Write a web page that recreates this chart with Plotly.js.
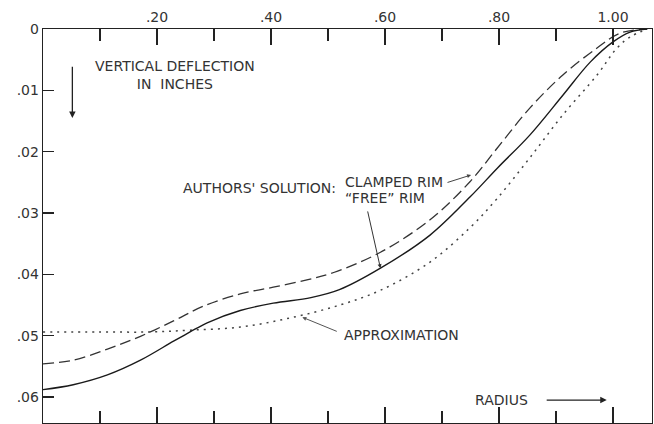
<!DOCTYPE html>
<html>
<head>
<meta charset="utf-8">
<script src="https://cdn.plot.ly/plotly-3.0.1.min.js"></script>
<style>html,body{margin:0;padding:0;background:#fff;}#chart{width:654px;height:424px;}</style>
</head>
<body>
<div id="chart"></div>
<script>
// Radius (fraction) and vertical deflection (inches)
const freeRimX = [0, 0.053, 0.113, 0.171, 0.229, 0.258, 0.288, 0.346, 0.404, 0.470, 0.520, 0.592, 0.679, 0.749, 0.797, 0.854, 0.912, 0.960, 1.000, 1.030, 1.060];
const freeRimY = [0.0588, 0.0580, 0.0564, 0.0540, 0.0509, 0.0494, 0.0479, 0.0459, 0.0447, 0.0438, 0.0425, 0.0390, 0.0336, 0.0274, 0.0227, 0.0173, 0.0108, 0.0054, 0.0021, 0.0005, 0.0];

const clampedRimX = [0, 0.053, 0.113, 0.171, 0.229, 0.281, 0.346, 0.404, 0.463, 0.510, 0.592, 0.679, 0.749, 0.797, 0.854, 0.912, 0.972, 1.012, 1.060];
const clampedRimY = [0.0546, 0.0540, 0.0522, 0.0501, 0.0476, 0.0452, 0.0432, 0.0421, 0.0409, 0.0397, 0.0364, 0.0311, 0.0249, 0.0194, 0.0129, 0.0075, 0.0031, 0.0007, 0.0];

const approxX = [0, 0.10, 0.188, 0.258, 0.346, 0.434, 0.521, 0.592, 0.679, 0.749, 0.797, 0.854, 0.912, 0.972, 1.007, 1.030, 1.060];
const approxY = [0.0494, 0.0494, 0.0494, 0.0491, 0.0486, 0.0471, 0.0450, 0.0426, 0.0380, 0.0324, 0.0276, 0.0210, 0.0140, 0.0075, 0.0031, 0.0013, 0.0];

const xTickVals = [0.2, 0.4, 0.6, 0.8, 1.0];
const xTickText = ['.20', '.40', '.60', '.80', '1.00'];
const xMinorVals = [0.1, 0.3, 0.5, 0.7, 0.9];
const yTickVals = [0, 0.01, 0.02, 0.03, 0.04, 0.05, 0.06];
const yTickText = ['0', '.01', '.02', '.03', '.04', '.05', '.06'];

const ink = '#222';
const FONT = 'DejaVu Sans, Verdana, sans-serif';

const traces = [
  {x: approxX, y: approxY, mode: 'lines', name: 'Approximation',
   line: {color: '#444', width: 1.5, dash: '2px,5px', shape: 'spline', smoothing: 1}},
  {x: clampedRimX, y: clampedRimY, mode: 'lines', name: 'Clamped rim',
   line: {color: '#333', width: 1.3, dash: '11px,5px', shape: 'spline', smoothing: 1}},
  {x: freeRimX, y: freeRimY, mode: 'lines', name: 'Free rim',
   line: {color: '#1a1a1a', width: 1.4, shape: 'spline', smoothing: 1}}
];

const txt = {family: FONT, size: 14, color: '#333'};
const annotations = [
  {x: 0.232, y: 0.0075, xref: 'x', yref: 'y', text: 'VERTICAL DEFLECTION<br>IN  INCHES', showarrow: false, font: txt, align: 'center'},
  {x: 0.0515, y: 0.0145, ax: 0.0515, ay: 0.0059, axref: 'x', ayref: 'y', xref: 'x', yref: 'y', text: '', showarrow: true, arrowhead: 2, arrowsize: 1, arrowwidth: 1.3, arrowcolor: ink, standoff: 0},
  {x: 0.518, y: 0.0259, xref: 'x', yref: 'y', text: "AUTHORS' SOLUTION:", xanchor: 'right', showarrow: false, font: txt},
  {x: 0.526, y: 0.0249, xref: 'x', yref: 'y', text: 'CLAMPED RIM', xanchor: 'left', showarrow: false, font: txt},
  {x: 0.526, y: 0.0276, xref: 'x', yref: 'y', text: '“FREE” RIM', xanchor: 'left', showarrow: false, font: txt},
  {x: 0.751, y: 0.0238, ax: 0.707, ay: 0.0251, axref: 'x', ayref: 'y', xref: 'x', yref: 'y', text: '', showarrow: true, arrowhead: 2, arrowsize: 0.8, arrowwidth: 1, arrowcolor: '#444', standoff: 0},
  {x: 0.592, y: 0.0390, ax: 0.569, ay: 0.0295, axref: 'x', ayref: 'y', xref: 'x', yref: 'y', text: '', showarrow: true, arrowhead: 2, arrowsize: 0.8, arrowwidth: 1, arrowcolor: '#333', standoff: 0},
  {x: 0.525, y: 0.0499, xref: 'x', yref: 'y', text: 'APPROXIMATION', xanchor: 'left', showarrow: false, font: txt},
  {x: 0.455, y: 0.0470, ax: 0.518, ay: 0.0494, axref: 'x', ayref: 'y', xref: 'x', yref: 'y', text: '', showarrow: true, arrowhead: 2, arrowsize: 0.8, arrowwidth: 1, arrowcolor: '#555', standoff: 0},
  {x: 0.755, y: 0.0605, xref: 'x', yref: 'y', text: 'RADIUS', xanchor: 'left', showarrow: false, font: txt},
  {x: 0.989, y: 0.0605, ax: 0.881, ay: 0.0605, axref: 'x', ayref: 'y', xref: 'x', yref: 'y', text: '', showarrow: true, arrowhead: 2, arrowsize: 1, arrowwidth: 1.3, arrowcolor: ink, standoff: 0}
];

const layout = {
  width: 654, height: 424,
  margin: {l: 43, r: 2, t: 29, b: 1, pad: 0},
  paper_bgcolor: '#fff', plot_bgcolor: '#fff',
  showlegend: false,
  font: {family: FONT, size: 14, color: '#333'},
  xaxis: {
    side: 'top', range: [0, 1.0684], showgrid: false, zeroline: false,
    tickmode: 'array', tickvals: xTickVals, ticktext: xTickText,
    ticks: 'inside', ticklen: 16, tickwidth: 1.3, tickcolor: ink,
    minor: {tickmode: 'array', tickvals: xMinorVals, ticks: 'inside', ticklen: 12, tickwidth: 1.3, tickcolor: ink, showgrid: false},
    showline: true, linecolor: ink, linewidth: 1.3, mirror: 'ticks',
    tickfont: {family: FONT, size: 14, color: '#333'}
  },
  yaxis: {
    range: [0.06424, 0], showgrid: false, zeroline: false,
    tickmode: 'array', tickvals: yTickVals, ticktext: yTickText,
    ticks: 'inside', ticklen: 11, tickwidth: 1.3, tickcolor: ink,
    showline: true, linecolor: ink, linewidth: 1.3, mirror: true,
    tickfont: {family: FONT, size: 14, color: '#333'}
  },
  annotations: annotations
};

Plotly.newPlot('chart', traces, layout, {staticPlot: true, displayModeBar: false});
</script>
</body>
</html>
